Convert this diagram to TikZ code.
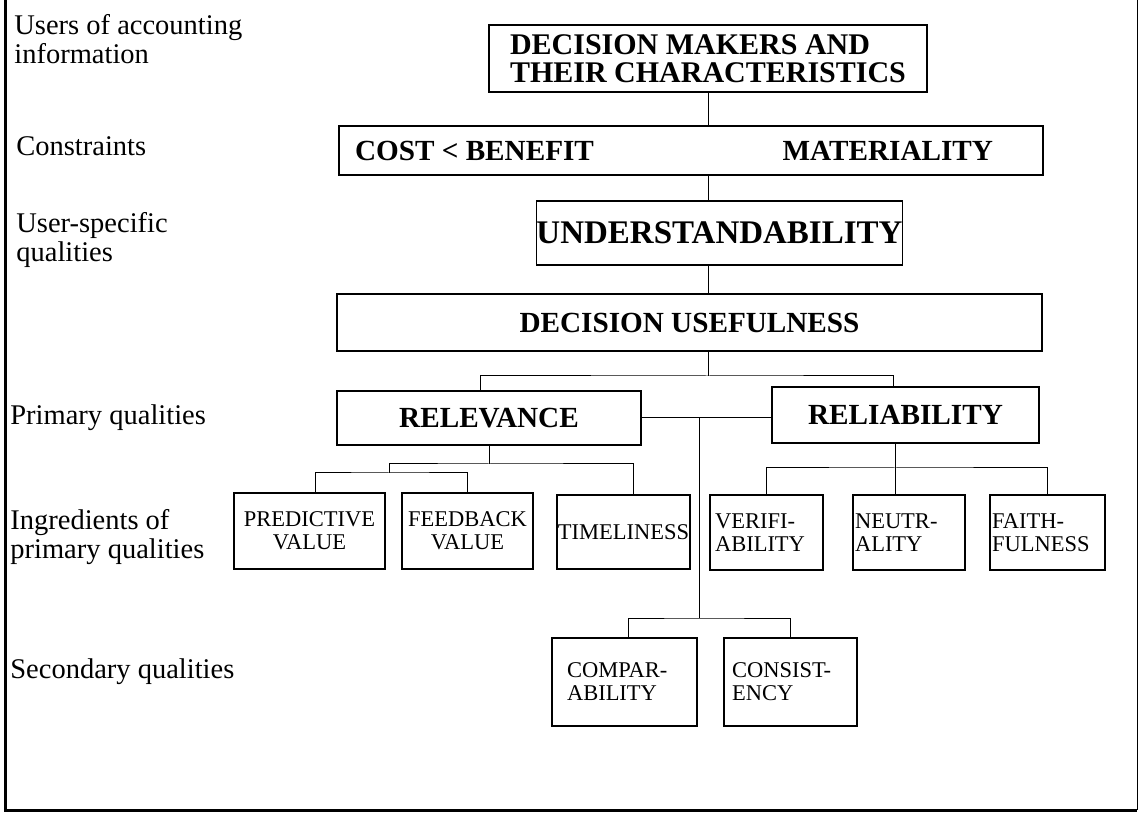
\documentclass[tikz,border=0pt]{standalone}
\usepackage{fontspec}
\setmainfont{Liberation Serif}
\usepackage{tikz}

\begin{document}
\begin{tikzpicture}[x=0.5pt, y=-0.5pt,
  box/.style = {draw, line width=0.7pt, inner sep=0pt, align=center},
  big/.style = {box, font=\fontsize{14.6}{14}\selectfont\bfseries},
  small/.style = {box, font=\fontsize{11.25}{11.5}\selectfont},
  lab/.style = {inner sep=0pt, align=left, anchor=north west,
        font=\fontsize{14.25}{14.5}\selectfont},
  link/.style = {line width=0.5pt}]
 \useasboundingbox (0,0) rectangle (1140,817);
 \draw[line width=1.5pt] (5,0) -- (5,810) -- (1137,810);
 \draw[line width=0.5pt] (1137,810) -- (1137,0);

 % row labels
 \node[lab] (lusers) at (14,14)  {Users of accounting\\information};
 \node[lab] (lcons)  at (16,136) {Constraints};
 \node[lab] (luser)  at (16,212) {User-specific\\qualities};
 \node[lab] (lprim)  at (10,404) {Primary qualities};
 \node[lab] (lingr)  at (10,509) {Ingredients of\\primary qualities};
 \node[lab] (lsec)   at (10,658) {Secondary qualities};

 \node[big, align=left, font=\fontsize{15}{14}\selectfont\bfseries,
   minimum width=219pt, minimum height=33.5pt] (dm) at (708,58.5)
   {DECISION MAKERS AND\\THEIR CHARACTERISTICS};
 \node[big, minimum width=352pt, minimum height=24.5pt] (cons) at (691,150.5)
   {\makebox[336pt][l]{COST < BENEFIT\hfill MATERIALITY\hspace{17pt}}};
 \node[big, font=\fontsize{16.5}{16}\selectfont\bfseries,
   minimum width=182.5pt, minimum height=32pt] (und) at (719.5,233)
   {UNDERSTANDABILITY};
 \node[big, minimum width=352.5pt, minimum height=28.5pt] (du) at (689.5,322.5)
   {DECISION USEFULNESS};
 \node[big, minimum width=152pt, minimum height=27pt] (rel) at (489,418) {RELEVANCE};
 \node[big, minimum width=133.5pt, minimum height=28pt] (rlb) at (905.5,415) {RELIABILITY};

 \node[small, minimum width=75.5pt, minimum height=38pt] (pred) at (309.5,531)
   {PREDICTIVE\\VALUE};
 \node[small, minimum width=65.5pt, minimum height=38pt] (feed) at (467.5,531)
   {FEEDBACK\\VALUE};
 \node[small, minimum width=66.5pt, minimum height=37pt] (time) at (623.5,532)
   {TIMELINESS};
 \node[small, align=left, text width=51.5pt, inner xsep=2.5pt,
   minimum height=37.5pt] (veri) at (766.5,532.5) {VERIFI-\\ABILITY};
 \node[small, align=left, text width=54pt, inner xsep=1pt,
   minimum height=37.5pt] (neut) at (909,532.5) {NEUTR-\\ALITY};
 \node[small, align=left, text width=55.5pt, inner xsep=1pt,
   minimum height=37.5pt] (faith) at (1047.5,532.5) {FAITH-\\FULNESS};
 \node[small, align=left, text width=57.5pt, inner xsep=7.5pt,
   minimum height=44pt] (comp) at (624.5,682) {COMPAR-\\ABILITY};
 \node[small, align=left, text width=58.5pt, inner xsep=4pt,
   minimum height=44pt] (cnst) at (790.5,682) {CONSIST-\\ENCY};

 % junctions of the tree
 \coordinate (j1) at (708,376);
 \coordinate (j2) at (699,618);
 \coordinate (j3) at (489,464);
 \coordinate (j4) at (389,473);
 \coordinate (j5) at (895,468);

 \draw[link] (dm.south) -- (dm.south |- cons.north);
 \draw[link] (dm.south |- cons.south) -- (dm.south |- und.north);
 \draw[link] (dm.south |- und.south) -- (dm.south |- du.north);
 \draw[link] (j1 |- du.south) -- (j1);
 \draw[link] ([xshift=-4.5pt]rel.north) |- (j1) -| ([xshift=-6.25pt]rlb.north);
 \draw[link] (rel.east) -- (rel.east -| rlb.west);
 \draw[link] (j2 |- rel.east) -- (j2);
 \draw[link] ([xshift=1.75pt]comp.north) |- (j2) -| (cnst.north);
 \draw[link] (rel.south) -- (j3);
 \draw[link] (j4) |- (j3) -| ([xshift=4.75pt]time.north);
 \draw[link] ([xshift=2.75pt]pred.north) |- (j4) -| (feed.north);
 \draw[link] (j5 |- rlb.south) -- (j5 |- neut.north);
 \draw[link] (veri.north) |- (j5) -| (faith.north);
\end{tikzpicture}
\end{document}
